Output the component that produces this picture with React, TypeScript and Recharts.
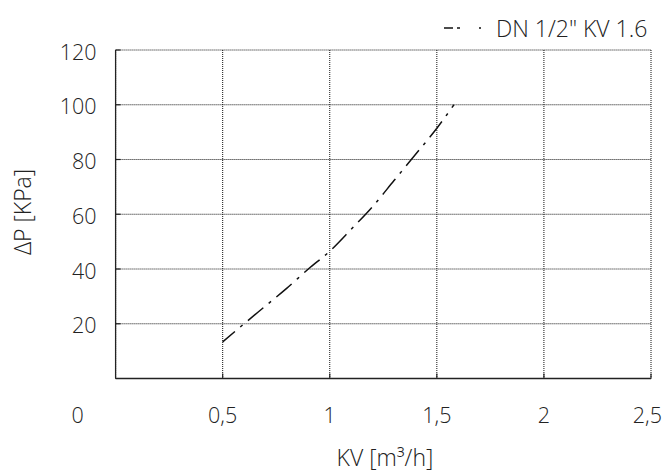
import React from 'react';
import { LineChart, Line, XAxis, YAxis, CartesianGrid } from 'recharts';

// values
const kvValues = [0.5, 0.6, 0.7, 0.8, 0.9, 1.0, 1.1, 1.2, 1.3, 1.4, 1.5, 1.58];
const dpValues = [13.4, 20, 26.5, 33, 40, 46.5, 54.5, 62.8, 72.3, 81.8, 91.4, 100];
const xTicks = [0, 0.5, 1, 1.5, 2, 2.5];
const yTicks = [0, 20, 40, 60, 80, 100, 120];
const seriesName = 'DN 1/2" KV 1.6';

const FONT = "'Open Sans', sans-serif";
const INK = '#222';
const DASH = '20 7 3 7';
const TICK_SIZE = 21.5;
const TITLE_SIZE = 23;

const data = kvValues.map((kv, i) => ({ kv, dp: dpValues[i] }));

const fmt = (v: number) => String(v).replace('.', ',');

const XTick = (props: any) => {
  const { x, y, payload } = props;
  const v = payload.value;
  const last = v === xTicks[xTicks.length - 1];
  // the lone "0" sits under the y labels, not under the axis origin
  let tx = x;
  let anchor: 'middle' | 'end' = 'middle';
  if (v === 0) tx = x - 38;
  if (last) {
    tx = x + 11;
    anchor = 'end';
  }
  return (
    <g>
      {v !== 0 && <line x1={x} x2={x} y1={y} y2={y - 5} stroke={INK} strokeWidth={1.2} />}
      <text x={tx} y={y + 36} textAnchor={anchor} dominantBaseline="central"
        fontFamily={FONT} fontWeight={300} fontSize={TICK_SIZE} fill={INK}>
        {fmt(v)}
      </text>
    </g>
  );
};

const YTick = (props: any) => {
  const { x, y, payload } = props;
  const v = payload.value;
  if (v === 0) return null;
  return (
    <g>
      <line x1={x} x2={x + 5} y1={y} y2={y} stroke={INK} strokeWidth={1.2} />
      <text x={x - 19} y={y + 1} textAnchor="end" dominantBaseline="central"
        fontFamily={FONT} fontWeight={300} fontSize={TICK_SIZE} fill={INK}>
        {v}
      </text>
    </g>
  );
};

export default function App() {
  return (
    <div style={{ position: 'absolute', left: 0, top: 0, width: 664, height: 473, background: '#fff' }}>
      <LineChart width={664} height={473} data={data}
        margin={{ top: 50, right: 13, bottom: 0, left: 0 }}>
        <CartesianGrid stroke="#111" strokeDasharray="1 1" />
        <XAxis dataKey="kv" type="number" domain={[0, 2.5]} ticks={xTicks}
          height={94.5} tickSize={0} tickMargin={0} tickLine={false}
          axisLine={{ stroke: INK, strokeWidth: 1.3 }} tick={<XTick />}
          label={{
            content: () => (
              <text x={385} y={457} textAnchor="middle" dominantBaseline="central"
                fontFamily={FONT} fontWeight={300} fontSize={TITLE_SIZE} fill={INK}>
                KV [m³/h]
              </text>
            ),
          }} />
        <YAxis type="number" domain={[0, 120]} ticks={yTicks} width={115.6}
          tickSize={0} tickMargin={0} tickLine={false}
          axisLine={{ stroke: INK, strokeWidth: 1.3 }} tick={<YTick />}
          label={{
            content: () => (
              <text x={22} y={212} textAnchor="middle" dominantBaseline="central"
                transform="rotate(-90 22 212)"
                fontFamily={FONT} fontWeight={300} fontSize={TITLE_SIZE} fill={INK}>
                ΔP [KPa]
              </text>
            ),
          }} />
        <Line dataKey="dp" type="monotone" stroke="#111" strokeWidth={1.5}
          strokeDasharray={DASH} strokeDashoffset={4} dot={false} isAnimationActive={false} />
      </LineChart>
      <div style={{
        position: 'absolute', left: 442, top: 12, display: 'flex', alignItems: 'center',
        fontFamily: FONT, fontWeight: 300, fontSize: 23, color: INK, whiteSpace: 'nowrap',
      }}>
        <svg width={44} height={10} style={{ marginRight: 10 }}>
          <line x1={2} x2={42} y1={5} y2={5} stroke="#111" strokeWidth={1.5}
            strokeDasharray="9 4 3 19 2 10" />
        </svg>
        <span>{seriesName}</span>
      </div>
    </div>
  );
}
